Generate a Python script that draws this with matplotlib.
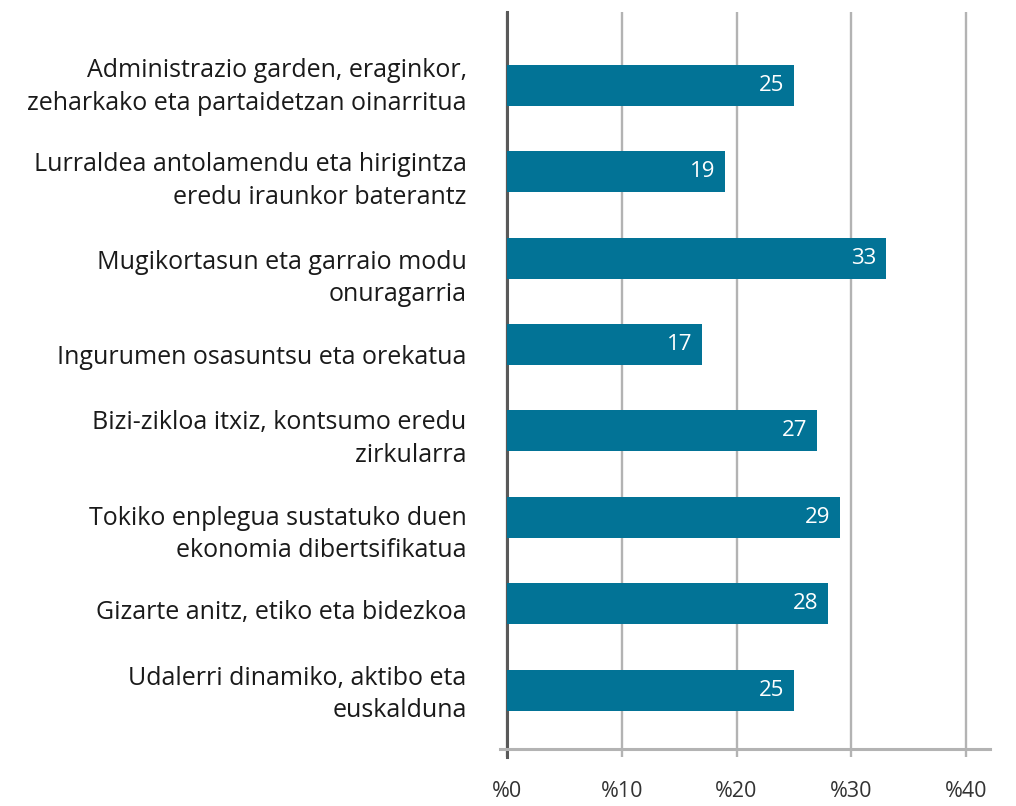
import matplotlib
matplotlib.use("Agg")
import matplotlib.pyplot as plt
from matplotlib.transforms import ScaledTranslation

categories = [
    "Administrazio garden, eraginkor,\nzeharkako eta partaidetzan oinarritua",
    "Lurraldea antolamendu eta hirigintza\neredu iraunkor baterantz",
    "Mugikortasun eta garraio modu\nonuragarria",
    "Ingurumen osasuntsu eta orekatua",
    "Bizi-zikloa itxiz, kontsumo eredu\nzirkularra",
    "Tokiko enplegua sustatuko duen\nekonomia dibertsifikatua",
    "Gizarte anitz, etiko eta bidezkoa",
    "Udalerri dinamiko, aktibo eta\neuskalduna",
]
values = [25, 19, 33, 17, 27, 29, 28, 25]
xticks = [0, 10, 20, 30, 40]
xticklabels = ["%0", "%10", "%20", "%30", "%40"]

# small vertical nudges (pixels, downward) of category labels as in the reference layout
label_nudge_px = [-5.5, 2.5, 13.5, 10, 1.5, 10.5, 6, -2.5]

plt.rcParams['font.family'] = ['Open Sans', 'DejaVu Sans']

W, H = 1016, 806
DPI = 100
fig = plt.figure(figsize=(W / DPI, H / DPI), dpi=DPI)
left_px, right_px, top_px, bot_px = 500, 990, 12, 749
ax = fig.add_axes([left_px / W, 1 - bot_px / H, (right_px - left_px) / W, (bot_px - top_px) / H])

bar_color = "#027396"
grid_color = "#B3B3B3"
ypos = list(range(len(categories)))
ax.barh(ypos, values, height=0.475, color=bar_color, zorder=3)

for y, v in zip(ypos, values):
    ax.annotate(f"{v}", xy=(v, y), xytext=(-7, 0), textcoords="offset points",
                ha="right", va="center", color="white", fontsize=16, zorder=4)

ax.set_xlim(-0.61, 42.09)
ax.set_ylim(7.683, -0.851)
ax.set_xticks(xticks)
ax.set_xticklabels(xticklabels, fontsize=15.5, color="#333333")
ax.set_yticks(ypos)
ax.set_yticklabels(categories, fontsize=18, color="#1a1a1a", linespacing=1.4)
ax.tick_params(axis="y", length=0, pad=24)
ax.tick_params(axis="x", length=6, width=1.7, color=grid_color, pad=17)

for lab, dy in zip(ax.get_yticklabels(), label_nudge_px):
    lab.set_transform(lab.get_transform() + ScaledTranslation(0, -dy / DPI, fig.dpi_scale_trans))

ax.grid(axis="x", color=grid_color, linewidth=1.7, zorder=0)
ax.set_axisbelow(True)
for s in ["top", "right", "left"]:
    ax.spines[s].set_visible(False)
ax.spines["bottom"].set_color(grid_color)
ax.spines["bottom"].set_linewidth(2.2)
ax.axvline(0, ymin=-0.011, ymax=1, color="#595959", linewidth=2.2, clip_on=False, zorder=2)

fig.savefig("out.png", dpi=DPI)
